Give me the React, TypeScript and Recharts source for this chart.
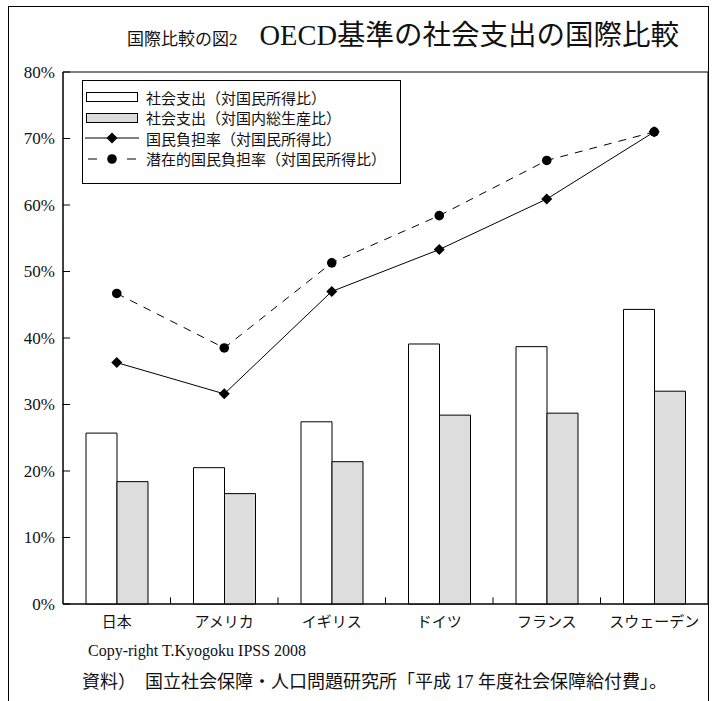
import React from "react";
import { ComposedChart, Bar, Line, XAxis, YAxis, Legend, ReferenceArea, ReferenceLine } from "recharts";

// 国名
const countries = ["日本", "アメリカ", "イギリス", "ドイツ", "フランス", "スウェーデン"];
// 社会支出（対国民所得比）
const socialExpNI = [25.7, 20.5, 27.4, 39.1, 38.7, 44.3];
// 社会支出（対国内総生産比）
const socialExpGDP = [18.4, 16.6, 21.4, 28.4, 28.7, 32.0];
// 国民負担率（対国民所得比）
const burdenRate = [36.3, 31.6, 47.0, 53.3, 60.9, 71.0];
// 潜在的国民負担率（対国民所得比）
const potentialBurden = [46.7, 38.5, 51.3, 58.4, 66.7, 71.0];
const yTicks = [0, 10, 20, 30, 40, 50, 60, 70, 80];

const seriesNames = {
    ni: "社会支出（対国民所得比）",
    gdp: "社会支出（対国内総生産比）",
    burden: "国民負担率（対国民所得比）",
    potential: "潜在的国民負担率（対国民所得比）",
};

const data = countries.map((name, i) => ({
    name,
    ni: socialExpNI[i],
    gdp: socialExpGDP[i],
    burden: burdenRate[i],
    potential: potentialBurden[i],
}));

// short tick at the right edge of every band except the last
const bandEdgeCountries = countries.slice(0, -1);
const EDGE_TICK = 1; // in % units

const SERIF = '"Liberation Serif", "Noto Sans CJK JP", serif';
const GRAY = "#dcdddc";

const renderDiamond = (props: any) => {
    const { cx, cy, index } = props;
    const r = 5.5;
    return (
        <path
            key={"d" + index}
            d={`M${cx},${cy - r}L${cx + r},${cy}L${cx},${cy + r}L${cx - r},${cy}Z`}
            fill="#000"
        />
    );
};

const renderCircle = (props: any) => {
    const { cx, cy, index } = props;
    return <circle key={"c" + index} cx={cx} cy={cy} r={4.8} fill="#000" />;
};

const XTick = (props: any) => {
    const { x, y, payload } = props;
    return (
        <text x={x} y={y + 21} textAnchor="middle" fontSize={15} fontFamily={SERIF} fill="#111">
            {payload.value}
        </text>
    );
};

const YTick = (props: any) => {
    const { x, y, payload } = props;
    return (
        <text x={x} y={y} dy="0.35em" textAnchor="end" fontSize={17} fontFamily={SERIF} fill="#111">
            {payload.value}%
        </text>
    );
};

const LegendIcon = ({ kind }: { kind: string }) => (
    <svg width={54} height={14} style={{ display: "block" }}>
        {kind === "ni" && <rect x={1.5} y={2.5} width={51} height={9} fill="#fff" stroke="#000" />}
        {kind === "gdp" && <rect x={1.5} y={2.5} width={51} height={9} fill={GRAY} stroke="#000" />}
        {kind === "burden" && (
            <g>
                <line x1={0} x2={54} y1={7} y2={7} stroke="#000" />
                <path d="M27,1.5L32.5,7L27,12.5L21.5,7Z" fill="#000" />
            </g>
        )}
        {kind === "potential" && (
            <g>
                <line x1={3} x2={12} y1={7} y2={7} stroke="#000" />
                <circle cx={27} cy={7} r={4.8} fill="#000" />
                <line x1={42} x2={51} y1={7} y2={7} stroke="#000" />
            </g>
        )}
    </svg>
);

const legendOrder = ["ni", "gdp", "burden", "potential"];

const renderLegend = (props: any) => {
    const payload = props.payload || [];
    const entries = legendOrder
        .map((k) => payload.find((p: any) => p.dataKey === k))
        .filter(Boolean);
    return (
        <div
            style={{
                border: "1px solid #000",
                background: "#fff",
                padding: "6px 14px 14px 2px",
                fontFamily: SERIF,
                fontSize: 15,
                color: "#111",
            }}
        >
            {entries.map((e: any) => (
                <div key={e.dataKey} style={{ display: "flex", alignItems: "center", height: 20.5 }}>
                    <LegendIcon kind={e.dataKey} />
                    <span style={{ marginLeft: 7, whiteSpace: "nowrap" }}>{e.value}</span>
                </div>
            ))}
        </div>
    );
};

export default function App() {
    return (
        <div
            style={{
                position: "absolute",
                left: 0,
                top: 0,
                width: 713,
                height: 701,
                overflow: "hidden",
                background: "#fff",
                fontFamily: SERIF,
            }}
        >
            {/* outer frame */}
            <div
                style={{
                    position: "absolute",
                    left: 8,
                    top: 6,
                    width: 699,
                    height: 720,
                    border: "1px solid #000",
                    borderBottom: "none",
                }}
            />

            {/* title */}
            <div
                style={{
                    position: "absolute",
                    left: 127,
                    top: 12,
                    display: "flex",
                    alignItems: "baseline",
                    whiteSpace: "nowrap",
                    color: "#111",
                }}
            >
                <span style={{ fontSize: 17 }}>国際比較の図2</span>
                <span style={{ fontSize: 28.5, marginLeft: 22 }}>OECD基準の社会支出の国際比較</span>
            </div>

            <div style={{ position: "absolute", left: 0, top: 0 }}>
                <ComposedChart
                    width={713}
                    height={701}
                    data={data}
                    margin={{ top: 72, right: 5, bottom: 67, left: 13 }}
                    barGap={0}
                >
                    <XAxis
                        dataKey="name"
                        height={30}
                        tickSize={0}
                        tickMargin={2}
                        axisLine={{ stroke: "#000" }}
                        tickLine={false}
                        tick={(p: any) => <XTick {...p} />}
                        interval={0}
                    />
                    {/* negative tick size turns the tick marks inward */}
                    <YAxis
                        width={50}
                        domain={[0, 80]}
                        ticks={yTicks}
                        tickSize={-7}
                        tickMargin={15}
                        axisLine={{ stroke: "#000" }}
                        tickLine={{ stroke: "#000" }}
                        tick={(p: any) => <YTick {...p} />}
                        interval={0}
                    />
                    <ReferenceArea
                        x1={countries[0]}
                        x2={countries[countries.length - 1]}
                        y1={0}
                        y2={80}
                        fill="none"
                        fillOpacity={0}
                        stroke="#000"
                        strokeWidth={1}
                    />
                    {bandEdgeCountries.map((c) => (
                        <ReferenceLine
                            key={c}
                            position="end"
                            segment={[
                                { x: c, y: 0 },
                                { x: c, y: EDGE_TICK },
                            ]}
                            stroke="#000"
                            strokeWidth={1}
                        />
                    ))}
                    <Bar
                        dataKey="ni"
                        name={seriesNames.ni}
                        fill="#fff"
                        stroke="#000"
                        strokeWidth={1}
                        barSize={31}
                        isAnimationActive={false}
                    />
                    <Bar
                        dataKey="gdp"
                        name={seriesNames.gdp}
                        fill={GRAY}
                        stroke="#000"
                        strokeWidth={1}
                        barSize={31}
                        isAnimationActive={false}
                    />
                    <Line
                        type="linear"
                        dataKey="burden"
                        name={seriesNames.burden}
                        stroke="#000"
                        strokeWidth={1}
                        dot={renderDiamond}
                        activeDot={false}
                        isAnimationActive={false}
                    />
                    <Line
                        type="linear"
                        dataKey="potential"
                        name={seriesNames.potential}
                        stroke="#000"
                        strokeWidth={1}
                        strokeDasharray="8 7"
                        dot={renderCircle}
                        activeDot={false}
                        isAnimationActive={false}
                    />
                    <Legend
                        layout="vertical"
                        align="center"
                        verticalAlign="middle"
                        content={renderLegend}
                        wrapperStyle={{ position: "absolute", left: 82, top: 80, width: "auto", height: "auto" }}
                    />
                </ComposedChart>
            </div>

            {/* footer notes */}
            <div style={{ position: "absolute", left: 88, top: 642, fontSize: 16, color: "#111", whiteSpace: "nowrap" }}>
                Copy-right T.Kyogoku IPSS 2008
            </div>
            <div style={{ position: "absolute", left: 82, top: 667, fontSize: 18, color: "#111", whiteSpace: "nowrap" }}>
                資料）　国立社会保障・人口問題研究所「平成 17 年度社会保障給付費」。
            </div>
        </div>
    );
}
